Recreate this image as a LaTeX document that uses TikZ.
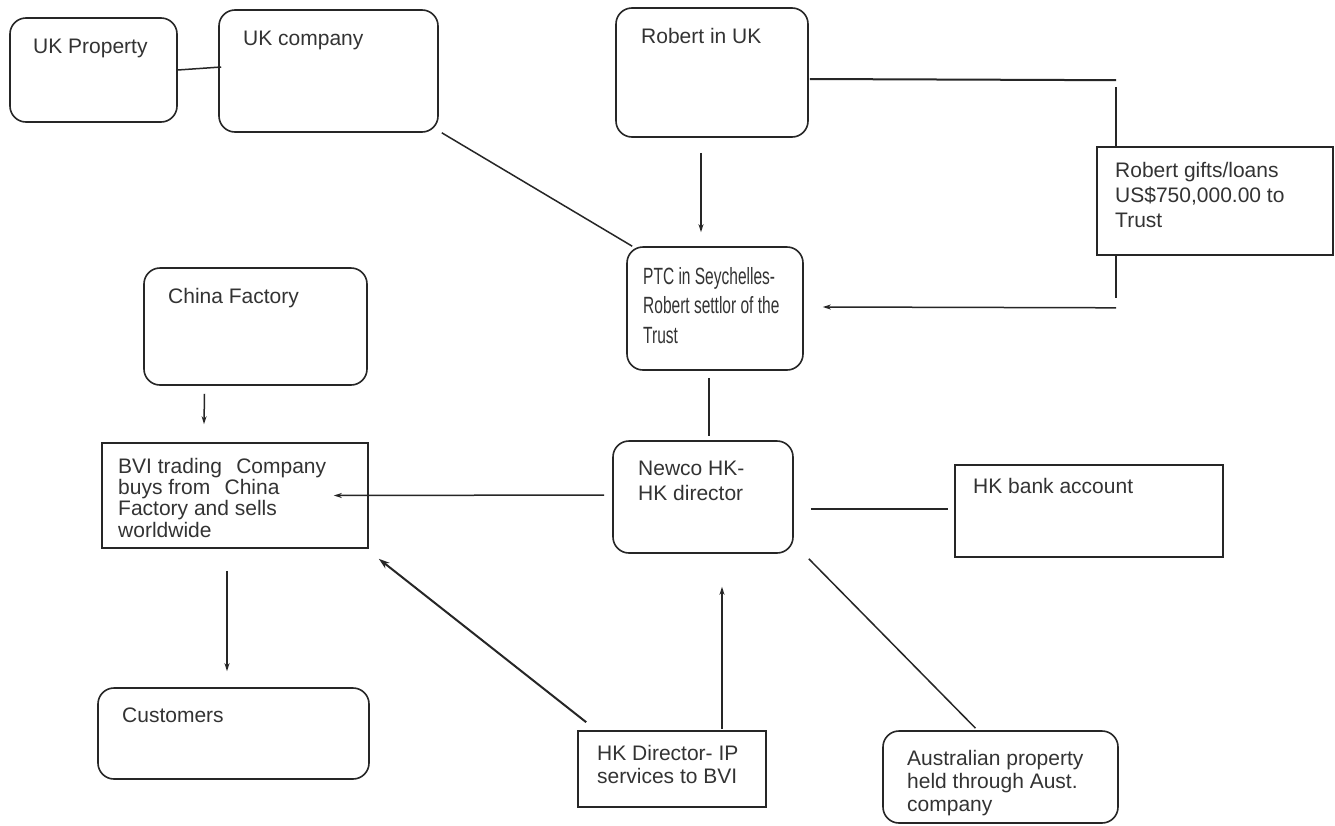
\documentclass[tikz,border=0pt]{standalone}
\usepackage{fontspec}
\setmainfont{Liberation Sans}
\newfontfamily\narrowfont[FakeStretch=0.66]{Liberation Sans}
\usetikzlibrary{arrows.meta,calc}
\begin{document}
\begin{tikzpicture}[x=1pt,y=-1pt,
  box/.style={draw=black!85, line width=1.6pt, inner sep=0pt},
  rbox/.style={box, rounded corners=16pt},
  lbl/.style={inner sep=0pt, anchor=base west, align=left, text=black!80, font=\fontsize{21}{25}\selectfont},
  conn/.style={draw=black!85, line width=1.5pt},
  arr/.style={conn, -{Stealth[length=8pt,width=5pt]}},
  bigarr/.style={conn, line width=2pt, -{Stealth[length=11pt,width=7pt]}},
]
\fill[white] (0,0) rectangle (1335,825);
\useasboundingbox (0,0) rectangle (1335,825);

% boxes
\node[rbox, minimum width=167, minimum height=104] (ukprop) at (93.5,70) {};
\node[rbox, minimum width=219, minimum height=122] (ukco) at (328.5,71) {};
\node[rbox, minimum width=192, minimum height=129] (robert) at (712,72.5) {};
\node[box,  minimum width=236, minimum height=108] (gifts) at (1215,201) {};
\node[rbox, minimum width=176, minimum height=123] (ptc) at (715,308.5) {};
\node[rbox, minimum width=223, minimum height=117] (china) at (255.5,326.5) {};
\node[box,  minimum width=266, minimum height=105] (bvi) at (235,495.5) {};
\node[rbox, minimum width=180, minimum height=112] (newco) at (703,497) {};
\node[box,  minimum width=268, minimum height=92] (bank) at (1089,511) {};
\node[rbox, minimum width=271, minimum height=91] (cust) at (233.5,733.5) {};
\node[box,  minimum width=188, minimum height=76] (hkdir) at (672,769) {};
\node[rbox, minimum width=235, minimum height=92] (aus) at (1000.5,777) {};

% texts (base anchor of a multi-line node = baseline of its last line)
\node[lbl] (tukprop) at (33,53) {UK Property};
\node[lbl] (tukco) at (243,45) {UK company};
\node[lbl] (trobert) at (641,43) {Robert in UK};
\node[lbl] (tgifts) at (1115,227) {Robert gifts/loans\\US\$750,000.00 to\\Trust};
\node[lbl, font=\narrowfont\fontsize{23.5}{29.5}\selectfont] (tptc) at (643,343) {PTC in Seychelles-\\Robert settlor of the\\Trust};
\node[lbl] (tchina) at (168,303) {China Factory};
\node[lbl, font=\fontsize{21}{21.3}\selectfont] (tbvi) at (118,537) {BVI trading\hspace{0.4em} Company\\buys from\hspace{0.4em} China\\Factory and sells\\worldwide};
\node[lbl] (tnewco) at (638,500) {Newco HK-\\HK director};
\node[lbl] (tbank) at (973,493) {HK bank account};
\node[lbl] (tcust) at (122,722) {Customers};
\node[lbl, font=\fontsize{21}{23}\selectfont] (thkdir) at (597,783) {HK Director- IP\\services to BVI};
\node[lbl, font=\fontsize{21}{23}\selectfont] (taus) at (907,811) {Australian property\\held through Aust.\\company};

% connectors
\draw[conn] (ukprop.east) -- ($(ukco.west)+(3,-4)$);
\draw[conn] ($(ukco.south east)+(3,0)$) -- ($(ptc.north west)+(6,0)$);
\draw[arr] ($(robert.south)+(-11,15)$) -- ($(ptc.north)+(-14,-14)$);
\draw[conn, line width=2pt] ($(robert.east)+(1,6.5)$) -- ($(gifts.north west)+(20,-66)$);
\draw[conn] ($(gifts.north west)+(20,-59)$) -- ($(gifts.north west)+(20,0)$);
\draw[conn] ($(gifts.south west)+(20,0)$) -- ($(gifts.south west)+(20,42)$);
\draw[arr] ($(gifts.south west)+(20,52)$) -- ($(ptc.east)+(19,-1.5)$);
\draw[conn] ($(ptc.south)+(-6,7)$) -- ($(newco.north)+(6,-4)$);
\draw[arr] ($(newco.west)+(-8,-2)$) -- ($(bvi.east)+(-35,0)$);
\draw[conn] ($(newco.east)+(17,12)$) -- ($(bank.west)+(-6,-2)$);
\draw[conn] ($(newco.south east)+(15,5)$) -- ($(aus.north)+(-25,-2)$);
\draw[arr] ($(hkdir.north)+(50,-1)$) -- ($(newco.south)+(19,33)$);
\draw[bigarr] ($(hkdir.north west)+(9,-8)$) -- ($(bvi.south east)+(10,10)$);
\draw[arr] ($(china.south)+(-51,8)$) -- ($(bvi.north)+(-31,-18)$);
\draw[arr] ($(bvi.south)+(-8,22)$) -- ($(cust.north)+(-6.5,-16)$);
\end{tikzpicture}
\end{document}
